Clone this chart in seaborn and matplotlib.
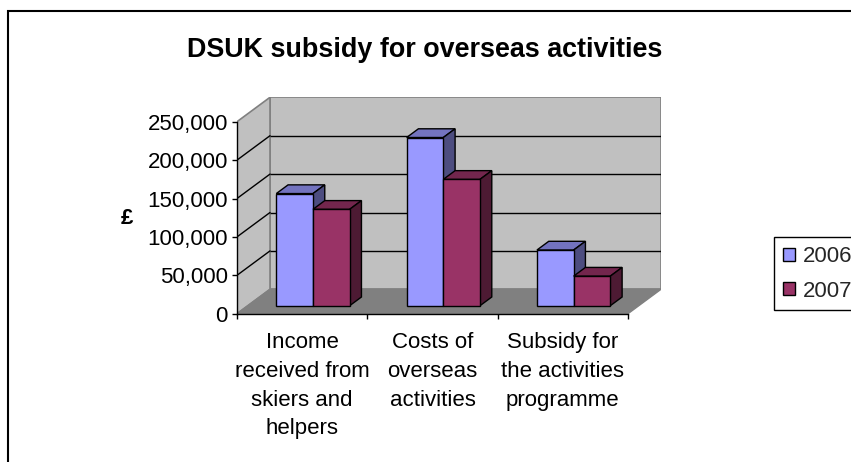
import numpy as np
import pandas as pd
import matplotlib
matplotlib.use("Agg")
import matplotlib.pyplot as plt
import seaborn as sns
from matplotlib.patches import Polygon, Rectangle, Patch
from matplotlib.ticker import FuncFormatter

# ---------------- data ----------------
categories = ["Income\nreceived from\nskiers and\nhelpers",
              "Costs of\noverseas\nactivities",
              "Subsidy for\nthe activities\nprogramme"]
years = ["2006", "2007"]
values_2006 = [146000, 219000, 72500]
values_2007 = [125500, 164500, 38500]
y_ticks = [0, 50000, 100000, 150000, 200000, 250000]
title = "DSUK subsidy for overseas activities"
y_label = "£"

front_colors = ["#9999FF", "#993366"]
top_colors = ["#7373BF", "#73264D"]
side_colors = ["#4D4D80", "#4D1A33"]

df = pd.DataFrame({
    "category": categories * 2,
    "year": [years[0]] * 3 + [years[1]] * 3,
    "value": values_2006 + values_2007,
})

sns.set_theme(style="white")
plt.rcParams['font.family'] = ['Liberation Sans', 'DejaVu Sans']

W, H = 851, 462
fig = plt.figure(figsize=(W / 100, H / 100), dpi=100)
fig.patch.set_facecolor("white")

# geometry (pixels)
x0, y0 = 237.0, 313.7
cat_px = 130.33
plot_h_px = 192.0
wall_dx, wall_dy = 33.0, 24.4
ax_w_px = 3 * cat_px + wall_dx
ax_h_px = plot_h_px + wall_dy
ax = fig.add_axes([x0 / W, (H - y0) / H, ax_w_px / W, ax_h_px / H])
ax.patch.set_visible(False)

ymax = y_ticks[-1]
val_per_px = ymax / plot_h_px
ddx = wall_dx / cat_px
ddy = wall_dy * val_per_px

sns.barplot(data=df, x="category", y="value", hue="year", palette=front_colors,
            width=0.563, edgecolor="black", linewidth=1.0, saturation=1,
            errorbar=None, legend=False, ax=ax)

ax.set_xlim(-0.5, 2.5 + ddx)
ax.set_ylim(0, ymax + ddy)

# walls
xl, xr = -0.5, 2.5
back = Polygon([(xl + ddx, ddy), (xr + ddx, ddy), (xr + ddx, ymax + ddy), (xl + ddx, ymax + ddy)],
               closed=True, facecolor="#C0C0C0", edgecolor="#808080", lw=1.2, zorder=1)
side = Polygon([(xl, 0), (xl, ymax), (xl + ddx, ymax + ddy), (xl + ddx, ddy)],
               closed=True, facecolor="#C0C0C0", edgecolor="#808080", lw=1.2, zorder=1)
ax.add_patch(back)
ax.add_patch(side)
for v in y_ticks[1:-1]:
    ax.plot([xl + ddx, xr + ddx], [v + ddy, v + ddy], color="black", lw=1.0, zorder=2,
            solid_capstyle="butt")
    ax.plot([xl, xl + ddx], [v, v + ddy], color="black", lw=1.0, zorder=2)
floor = Polygon([(xl, 0), (xr, 0), (xr + ddx, ddy), (xl + ddx, ddy)],
                closed=True, facecolor="#808080", edgecolor="#808080", lw=1.0, zorder=3)
ax.add_patch(floor)

# 3D bar faces
bar_start = 0.328
bar_depth = 0.357
bdx, bdy = bar_depth * ddx, bar_depth * ddy
for i, cont in enumerate(ax.containers):
    for c, p in enumerate(cont.patches):
        x, w, h = p.get_x(), p.get_width(), p.get_height()
        bx = x + bar_start * ddx
        by = bar_start * ddy
        p.set_x(bx)
        p.set_y(by)
        z = 10 + 4 * c + 2 * i
        p.set_zorder(z + 1)
        top = Polygon([(bx, by + h), (bx + w, by + h), (bx + w + bdx, by + h + bdy), (bx + bdx, by + h + bdy)],
                      closed=True, facecolor=top_colors[i], edgecolor="black", lw=1.0, zorder=z)
        sd = Polygon([(bx + w, by), (bx + w, by + h), (bx + w + bdx, by + h + bdy), (bx + w + bdx, by + bdy)],
                     closed=True, facecolor=side_colors[i], edgecolor="black", lw=1.0, zorder=z)
        ax.add_patch(top)
        ax.add_patch(sd)

# spines
for s in ["top", "right"]:
    ax.spines[s].set_visible(False)
ax.spines["left"].set_bounds(0, ymax)
ax.spines["bottom"].set_bounds(-0.5, 2.5)
for s in ["left", "bottom"]:
    ax.spines[s].set_color("black")
    ax.spines[s].set_linewidth(1.0)
    ax.spines[s].set_zorder(5)

ax.set_yticks(y_ticks)
ax.yaxis.set_major_formatter(FuncFormatter(lambda v, _: f"{v:,.0f}"))
ax.tick_params(axis="y", left=True, direction="out", length=3.6, width=1.0,
               color="black", pad=3, labelsize=16, labelcolor="black")

ax.set_xticks([-0.5, 0.5, 1.5, 2.5])
ax.set_xticklabels([])
ax.set_xticks([0, 1, 2], minor=True)
ax.set_xticklabels(categories, minor=True)
ax.tick_params(axis="x", which="major", bottom=True, direction="out", length=3.6,
               width=1.0, color="black")
ax.tick_params(axis="x", which="minor", bottom=True, length=0, pad=13.5, labelsize=16,
               labelcolor="black")
for lbl in ax.get_xticklabels(minor=True):
    lbl.set_linespacing(1.48)
    lbl.set_ha("center")
ax.set_xlabel("")

ax.set_ylabel(y_label, rotation=0, fontweight="bold", fontsize=16, color="black",
              ha="center", va="center")
ax.yaxis.set_label_coords((127 - x0) / ax_w_px, (y0 - 218) / ax_h_px)

fig.text(425 / W, 1 - 57 / H, title, ha="center", va="baseline",
         fontsize=19.4, fontweight="bold", color="black")

handles = [Patch(facecolor=front_colors[i], edgecolor="black", lw=1.0) for i in range(2)]
leg = fig.legend(handles=handles, labels=years, loc="upper left",
                 bbox_to_anchor=(774 / W, 1 - 237.3 / H), frameon=True, fancybox=False,
                 edgecolor="black", framealpha=1, fontsize=16, handlelength=0.55,
                 handleheight=0.55, handletextpad=0.35, borderpad=0.4,
                 labelspacing=0.6, borderaxespad=0)
leg.get_frame().set_linewidth(1.0)

fig.add_artist(Rectangle((8 / W, -0.5), 2, (1 - 11 / H) + 0.5, transform=fig.transFigure,
                         fill=False, edgecolor="black", lw=1.5))

fig.savefig("out.png", dpi=100)
